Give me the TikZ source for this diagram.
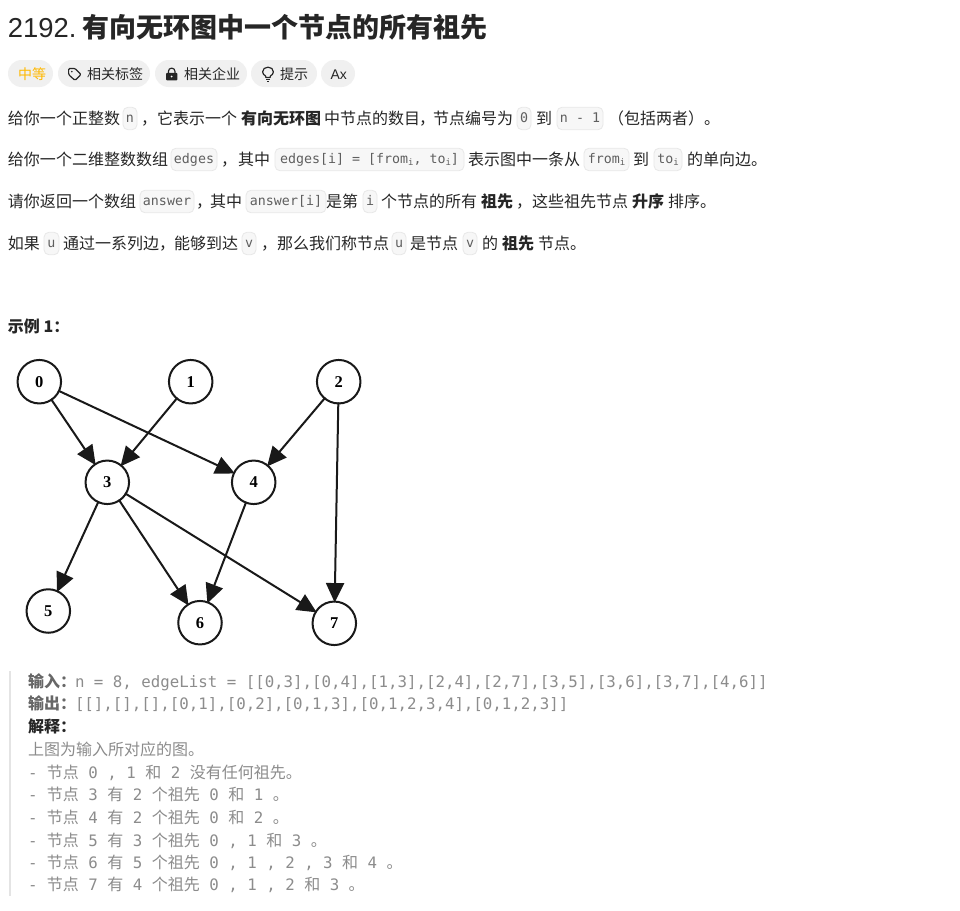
\documentclass[tikz,border=0pt]{standalone}
\usepackage{fontspec}
\usetikzlibrary{arrows.meta}
\setmainfont{Noto Sans CJK SC}
\newfontfamily\latinf{Liberation Sans}
\newfontfamily\monof{DejaVu Sans Mono}
\newfontfamily\nodef{Liberation Serif}
\definecolor{ink}{HTML}{262626}
\definecolor{codeink}{HTML}{5F5F5F}
\definecolor{quoteink}{HTML}{8C8C8C}
\definecolor{chipfill}{HTML}{F0F0F0}
\definecolor{codefill}{HTML}{F7F7F7}
\definecolor{codeline}{HTML}{E8E8E8}
\definecolor{quotebar}{HTML}{E4E4E4}
\definecolor{amber}{HTML}{FFB800}
\newcommand{\subi}{\raisebox{-2pt}{\fontsize{9}{9}\selectfont i}}
\tikzset{
  x=1pt,y=-1pt,
  txt/.style={anchor=base west,inner sep=0pt,outer sep=0pt,text=ink,font=\fontsize{16}{16}\selectfont},
  boldtxt/.style={txt,font=\fontsize{16}{16}\selectfont\bfseries},
  codebox/.style={draw=codeline,fill=codefill,rounded corners=5pt,line width=0.8pt,inner sep=0pt,minimum height=22.5pt,text=codeink,text height=9.5pt,text depth=2.5pt,font=\monof\fontsize{13.3}{13.3}\selectfont},
  chip/.style={fill=chipfill,rounded corners=13.5pt,inner sep=0pt,minimum height=27pt},
  chiptxt/.style={txt,font=\fontsize{14}{14}\selectfont},
  quote/.style={anchor=base west,inner sep=0pt,outer sep=0pt,text=quoteink,font=\monof\fontsize{15.76}{15.76}\selectfont},
  quotebold/.style={anchor=base west,inner sep=0pt,outer sep=0pt,text=#1,font=\fontsize{16}{16}\selectfont\bfseries},
  vertex/.style={circle,draw=black!90,line width=2pt,minimum size=43.5pt,inner sep=0pt,outer sep=-1pt,fill=white,font=\nodef\bfseries\fontsize{16.5}{16.5}\selectfont},
  edge/.style={draw=black!90,line width=2pt,-{Triangle[length=19.5pt,width=18pt]}},
  icon/.style={draw=ink,line width=1.2pt,line join=round}
}
\newcommand{\cd}[5]{\node[codebox,minimum width={(#3-#2)*1pt}] (#1) at ({(#2+#3)/2},#4) {#5};}
\newcommand{\cjq}[1]{{\rmfamily\fontsize{16}{16}\selectfont #1}}
\begin{document}
\begin{tikzpicture}
\useasboundingbox (0,0) rectangle (960,910);
\fill[white] (0,0) rectangle (960,910);

% title
\node[txt,font=\latinf\fontsize{27.4}{27}\selectfont] (t1) at (8,37) {2192.};
\node[txt,font=\fontsize{27}{27}\selectfont\bfseries] (t2) at (82,37) {有向无环图中一个节点的所有祖先};

% chips
\node[chip,minimum width=45pt] (c1) at (30.5,73.5) {};
\node[chip,minimum width=92pt] (c2) at (104,73.5) {};
\node[chip,minimum width=92pt] (c3) at (201,73.5) {};
\node[chip,minimum width=66pt] (c4) at (284,73.5) {};
\node[chip,minimum width=34pt] (c5) at (338,73.5) {};
\node[chiptxt,text=amber] (c1t) at (18,79.5) {中等};
\node[chiptxt] (c2t) at (87,79.5) {相关标签};
\node[chiptxt] (c3t) at (184,79.5) {相关企业};
\node[chiptxt] (c4t) at (280,79.5) {提示};
\node[chiptxt,font=\latinf\fontsize{14}{14}\selectfont] (c5t) at (330.5,79) {Ax};
% tag icon
\draw[icon,rounded corners=1.2pt] (68.6,68.4)--(75,68.4)--(81,74.6)--(75,80.4)--(68.6,74.6)--cycle;
\fill[ink] (71.8,71.6) circle (0.9pt);
% lock icon
\fill[ink,rounded corners=1pt] (166,72.8) rectangle (177.4,80.4);
\draw[icon] (168.4,73.4)--(168.4,71.4) arc[start angle=180,end angle=0,radius=3.3pt]--(175,73.4);
\fill[white] (171.7,76.5) circle (1pt);
% bulb icon
\draw[icon] (265.8,77.4)--(265.6,76) .. controls (264,75) and (262.6,73.8) .. (262.6,71.8) .. controls (262.6,69) and (265,67.2) .. (268,67.2) .. controls (271,67.2) and (273.4,69) .. (273.4,71.8) .. controls (273.4,73.8) and (272,75) .. (270.4,76)--(270.2,77.4)--cycle;
\draw[icon] (266,79.6)--(270,79.6);
\draw[icon] (267,81.4)--(269,81.4);

% line 1
\node[txt] (a1) at (8,124) {给你一个正整数};
\cd{a2}{123}{137}{118.5}{n}
\node[txt] (a3) at (141,124) {，};
\node[txt] (a4) at (157,124) {它表示一个};
\node[boldtxt] (a5) at (241,124) {有向无环图};
\node[txt] (a6) at (324,124) {中节点的数目};
\node[txt] (a6b) at (419,124) {，};
\node[txt] (a6c) at (433,124) {节点编号为};
\cd{a7}{517}{531}{118.5}{0}
\node[txt] (a8) at (536,124) {到};
\cd{a9}{557}{603}{118.5}{n - 1}
\node[txt] (a10) at (608,124) {（包括两者）。};

% line 2
\node[txt] (b1) at (8,165) {给你一个二维整数数组};
\cd{b2}{171}{217}{159.5}{edges}
\node[txt] (b3) at (221,165) {，};
\node[txt] (b4) at (238,165) {其中};
\cd{b5}{275}{464}{159.5}{edges[i] = [from\subi, to\subi]}
\node[txt] (b6) at (468,165) {表示图中一条从};
\cd{b7}{584}{629}{159.5}{from\subi}
\node[txt] (b8) at (633,165) {到};
\cd{b9}{654}{682}{159.5}{to\subi}
\node[txt] (b10) at (687,165) {的单向边。};

% line 3
\node[txt] (d1) at (8,207) {请你返回一个数组};
\cd{d2}{140}{194}{201.5}{answer}
\node[txt] (d3) at (196,207) {，};
\node[txt] (d3b) at (210,207) {其中};
\cd{d4}{246}{326}{201.5}{answer[i]}
\node[txt] (d5) at (326,207) {是第};
\cd{d6}{363}{377}{201.5}{i}
\node[txt] (d7) at (381,207) {个节点的所有};
\node[boldtxt] (d8) at (481,207) {祖先};
\node[txt] (d9) at (516,207) {，};
\node[txt] (d10) at (532,207) {这些祖先节点};
\node[boldtxt] (d11) at (632,207) {升序};
\node[txt] (d12) at (668,207) {排序。};

% line 4
\node[txt] (e1) at (8,249) {如果};
\cd{e2}{44}{59}{243.5}{u}
\node[txt] (e3) at (63,249) {通过一系列边，};
\node[txt] (e4) at (174,249) {能够到达};
\cd{e5}{242}{256}{243.5}{v}
\node[txt] (e6) at (261,249) {，};
\node[txt] (e7) at (277,249) {那么我们称节点};
\cd{e8}{392}{406}{243.5}{u}
\node[txt] (e9) at (410,249) {是节点};
\cd{e10}{463}{477}{243.5}{v}
\node[txt] (e11) at (482,249) {的};
\node[boldtxt] (e12) at (502,249) {祖先};
\node[txt] (e13) at (538,249) {节点。};

% example heading
\node[boldtxt] (ex) at (8,332) {示例 1：};

% graph
\node[vertex] (n0) at (39.3,381.7) {0};
\node[vertex] (n1) at (190.7,381.7) {1};
\node[vertex] (n2) at (338.7,381.7) {2};
\node[vertex] (n3) at (107.3,482.3) {3};
\node[vertex] (n4) at (253.7,482.3) {4};
\node[vertex] (n5) at (48.3,611) {5};
\node[vertex] (n6) at (200,622.7) {6};
\node[vertex] (n7) at (334.3,623.3) {7};
\draw[edge] (n0) -- (n3);
\draw[edge] (n0) -- (n4);
\draw[edge] (n1) -- (n3);
\draw[edge] (n2) -- (n4);
\draw[edge] (n2) -- (n7);
\draw[edge] (n3) -- (n5);
\draw[edge] (n3) -- (n6);
\draw[edge] (n3) -- (n7);
\draw[edge] (n4) -- (n6);

% quote
\fill[quotebar] (9,671) rectangle (11,896);
\node[quotebold=ink!70!white] (q1a) at (28,687) {输入：};
\node[quote] (q1b) at (75,687) {n = 8, edgeList = [[0,3],[0,4],[1,3],[2,4],[2,7],[3,5],[3,6],[3,7],[4,6]]};
\node[quotebold=ink!70!white] (q2a) at (28,709) {输出：};
\node[quote] (q2b) at (75,709) {[[],[],[],[0,1],[0,2],[0,1,3],[0,1,2,3,4],[0,1,2,3]]};
\node[quotebold=ink] (q3) at (28,732) {解释：};
\node[quote] (q4) at (28,755) {\cjq{上图为输入所对应的图。}};
\node[quote] (q5) at (28,778) {- \cjq{节点} 0 , 1 \cjq{和} 2 \cjq{没有任何祖先。}};
\node[quote] (q6) at (28,800) {- \cjq{节点} 3 \cjq{有} 2 \cjq{个祖先} 0 \cjq{和} 1 \cjq{。}};
\node[quote] (q7) at (28,823) {- \cjq{节点} 4 \cjq{有} 2 \cjq{个祖先} 0 \cjq{和} 2 \cjq{。}};
\node[quote] (q8) at (28,846) {- \cjq{节点} 5 \cjq{有} 3 \cjq{个祖先} 0 , 1 \cjq{和} 3 \cjq{。}};
\node[quote] (q9) at (28,868) {- \cjq{节点} 6 \cjq{有} 5 \cjq{个祖先} 0 , 1 , 2 , 3 \cjq{和} 4 \cjq{。}};
\node[quote] (q10) at (28,890) {- \cjq{节点} 7 \cjq{有} 4 \cjq{个祖先} 0 , 1 , 2 \cjq{和} 3 \cjq{。}};
\end{tikzpicture}
\end{document}
